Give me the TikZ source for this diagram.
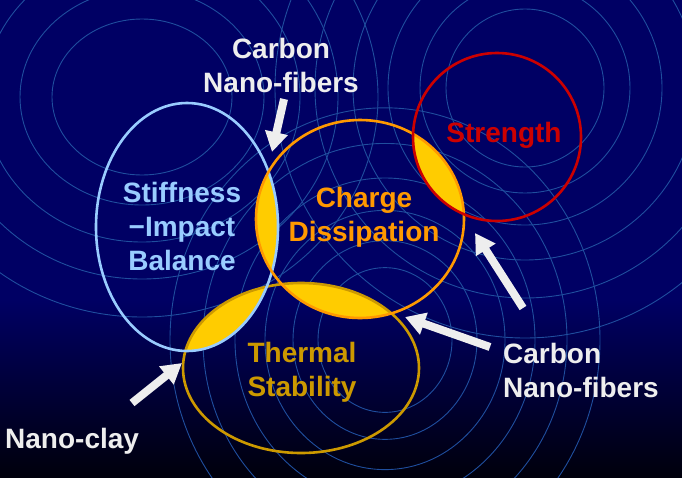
\documentclass[tikz,border=0pt]{standalone}
\usepackage{fontspec}
\setmainfont{Liberation Sans}
\usetikzlibrary{arrows.meta}

\definecolor{navy}{HTML}{000064}
\definecolor{navydark}{HTML}{00000C}
\definecolor{ringblue}{HTML}{1F4E9E}
\definecolor{skyblue}{HTML}{99CCFF}
\definecolor{chargeorange}{HTML}{FF9900}
\definecolor{strengthred}{HTML}{CC0000}
\definecolor{thermalgold}{HTML}{CC9900}
\definecolor{lensyellow}{HTML}{FFCC00}
\definecolor{labelwhite}{HTML}{EEEEEE}

% the four property sets, in pixel units
\newcommand{\stiffshape}{(187,227) ellipse [x radius=91, y radius=124]}
\newcommand{\chargeshape}{(360,219) ellipse [x radius=104, y radius=99]}
\newcommand{\strengthshape}{(497,137) circle [radius=84]}
\newcommand{\thermalshape}{(301,368) ellipse [x radius=118, y radius=85]}

\begin{document}
\begin{tikzpicture}[x=1pt, y=-1pt,
	txt/.style={font=\fontsize{28}{34}\selectfont\bfseries, inner sep=0pt, align=center},
	set/.style={line width=2.6pt},
	lens/.style={fill=lensyellow},
	ring/.style={draw=ringblue, line width=0.9pt},
	bigarrow/.style={draw=labelwhite, line width=8pt, -{Triangle[width=22pt,length=20pt]}}]
	\useasboundingbox (0,0) rectangle (682,477);

	% background
	\fill[navy] (0,0) rectangle (682,300);
	\shade[top color=navy, bottom color=navydark] (0,299) rectangle (682,477);
	\begin{scope}
		\clip (0,0) rectangle (682,477);
		\foreach \rx/\ry in {90/78, 122/108, 158/145, 196/182, 236/220}
			\draw[ring] (142,97) ellipse [x radius=\rx, y radius=\ry];
		\foreach \r in {79, 105, 137, 172, 210, 250}
			\draw[ring] (525,88) circle [radius=\r];
		\foreach \r in {67, 92, 120, 150, 182, 215}
			\draw[ring] (385,340) ellipse [x radius=\r, y radius=1.08*\r];
	\end{scope}

	% overlaps
	\begin{scope}
		\clip \stiffshape;
		\fill[lens] \chargeshape;
		\fill[lens] \thermalshape;
	\end{scope}
	\begin{scope}
		\clip \chargeshape;
		\fill[lens] \strengthshape;
		\fill[lens] \thermalshape;
	\end{scope}

	\draw[set, thermalgold] \thermalshape;
	\draw[set, skyblue] \stiffshape;
	\draw[set, chargeorange] \chargeshape;
	\draw[set, strengthred] \strengthshape;

	% labels
	\node[txt, skyblue, anchor=north] (stiffness) at (182,182) {Stiffness\\−Impact\\Balance};
	\node[txt, chargeorange, anchor=north] (charge) at (364,187) {Charge\\Dissipation};
	\node[txt, strengthred, anchor=base] (strength) at (504,142) {Strength};
	\node[txt, thermalgold, anchor=north] (thermal) at (302,342) {Thermal\\Stability};
	\node[txt, labelwhite, anchor=north] (cnftop) at (281,38) {Carbon\\Nano-fibers};
	\node[txt, labelwhite, anchor=north west, align=left] (cnfright) at (503,343) {Carbon\\Nano-fibers};
	\node[txt, labelwhite, anchor=base west] (nanoclay) at (5,448) {Nano-clay};

	\coordinate (topfrom) at (284,99);
	\coordinate (topto) at (272,152);
	\coordinate (upfrom) at (523,308);
	\coordinate (upto) at (475,233);
	\coordinate (lowfrom) at (490,347);
	\coordinate (lowto) at (405,317);
	\coordinate (clayfrom) at (132,403);
	\coordinate (clayto) at (182,363);

	\draw[bigarrow] (topfrom) -- (topto);
	\draw[bigarrow] (upfrom) -- (upto);
	\draw[bigarrow] (lowfrom) -- (lowto);
	\draw[bigarrow] (clayfrom) -- (clayto);
\end{tikzpicture}
\end{document}
